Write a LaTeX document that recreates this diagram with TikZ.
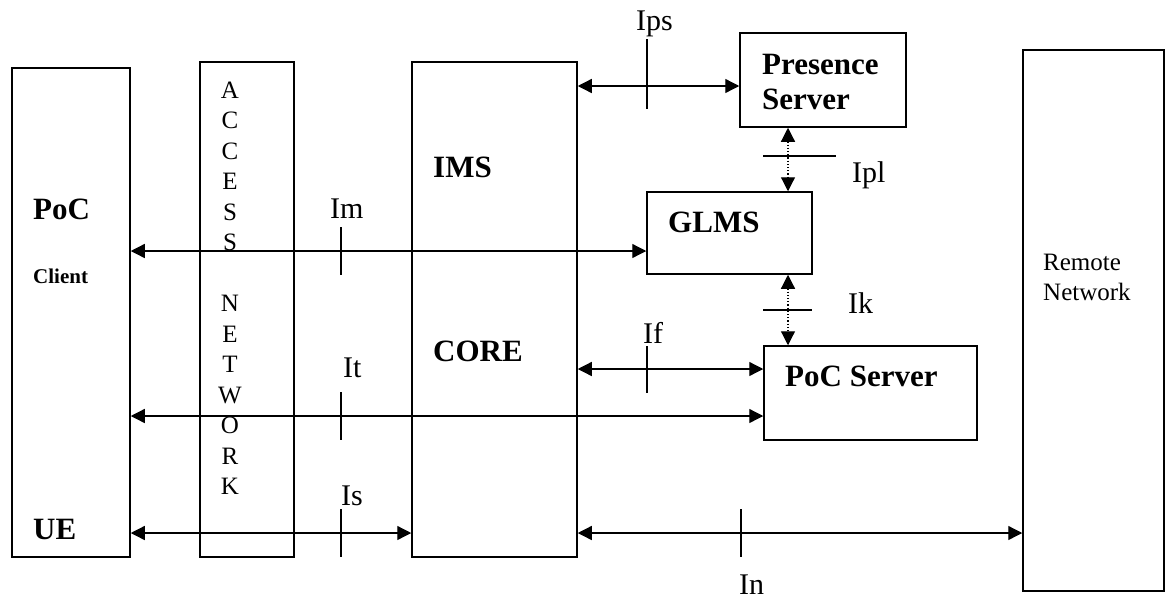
\documentclass[tikz,border=0pt]{standalone}
\usepackage{fontspec}
\setmainfont{Liberation Serif}
\usetikzlibrary{arrows.meta}

\begin{document}
\begin{tikzpicture}[x=1pt,y=-1pt,
    box/.style={draw,line width=1.5pt,inner sep=0pt},
    link/.style={{Triangle[length=14pt,width=14pt]}-{Triangle[length=14pt,width=14pt]},
      line width=1.3pt},
    dotlink/.style={link,line width=1.2pt,dotted},
    tick/.style={line width=1.3pt},
    lbl/.style={inner sep=0pt,anchor=base west,font=\fontsize{30}{34}\selectfont},
    title/.style={inner sep=0pt,anchor=base west,align=left,
      font=\bfseries\fontsize{31}{35}\selectfont},
    letter/.style={inner sep=0pt,anchor=base,font=\fontsize{25}{30}\selectfont}
  ]
    \useasboundingbox (0,0) rectangle (1168,598);

    % boxes
    \node[box,minimum width=118pt,minimum height=489pt] (ue) at (71,312.5) {};
    \node[box,minimum width=94pt,minimum height=495pt] (acc) at (247,309.5) {};
    \node[box,minimum width=165pt,minimum height=495pt] (ims) at (494.5,309.5) {};
    \node[box,minimum width=166pt,minimum height=94pt] (pres) at (823,80) {};
    \node[box,minimum width=165pt,minimum height=82pt] (glms) at (729.5,233) {};
    \node[box,minimum width=213pt,minimum height=94pt] (pocs) at (870.5,393) {};
    \node[box,minimum width=141pt,minimum height=541pt] (remote) at (1093.5,320.5) {};

    % texts in the boxes
    \node[title] (poc) at (33,219) {PoC};
    \node[title,font=\bfseries\fontsize{21}{25}\selectfont] (client) at (33,283) {Client};
    \node[title] (uetext) at (33,539) {UE};
    \node[title] (imstext) at (433,177) {IMS};
    \node[title] (coretext) at (433,361) {CORE};
    \node[title] (glmstext) at (668,232) {GLMS};
    \node[title] (prestext) at (762,109) {Presence\\Server};
    \node[title] (pocstext) at (785,386) {PoC Server};
    \node[lbl,align=left,font=\fontsize{25}{30}\selectfont] (remotetext) at (1043,300)
      {Remote\\Network};
    \foreach \ch/\k in {A/0,C/1,C/2,E/3,S/4,S/5,N/7,E/8,T/9,W/10,O/11,R/12,K/13}
      \node[letter] (acc\k) at (230,98+30.5*\k) {\ch};

    % interfaces
    \coordinate (ipsY) at (0,86);
    \coordinate (imY) at (0,251);
    \coordinate (ifY) at (0,369);
    \coordinate (itY) at (0,416);
    \coordinate (isY) at (0,533);
    \coordinate (plX) at (788,0);

    \draw[link] (ims.east |- ipsY) -- (pres.west |- ipsY);
    \draw[link] (ue.east |- imY) -- (glms.west |- imY);
    \draw[link] (ims.east |- ifY) -- (pocs.west |- ifY);
    \draw[link] (ue.east |- itY) -- (pocs.west |- itY);
    \draw[link] (ue.east |- isY) -- (ims.west |- isY);
    \draw[link] (ims.east |- isY) -- (remote.west |- isY);
    \draw[dotlink] (pres.south -| plX) -- (glms.north -| plX);
    \draw[dotlink] (glms.south -| plX) -- (pocs.north -| plX);

    % ticks
    \draw[tick] (647,39) -- (647,109);
    \draw[tick] (341,227) -- (341,275);
    \draw[tick] (341,392) -- (341,440);
    \draw[tick] (341,509) -- (341,557);
    \draw[tick] (647,346) -- (647,393);
    \draw[tick] (741,509) -- (741,557);
    \draw[tick] (763,156) -- (836,156);
    \draw[tick] (763,310) -- (812,310);

    \node[lbl] (ips) at (636,30) {Ips};
    \node[lbl] (im) at (330,218) {Im};
    \node[lbl] (it) at (343,377) {It};
    \node[lbl] (is) at (341,505) {Is};
    \node[lbl] (if) at (643,343) {If};
    \node[lbl] (in) at (739,594) {In};
    \node[lbl] (ipl) at (852,182) {Ipl};
    \node[lbl] (ik) at (848,313) {Ik};
  \end{tikzpicture}
\end{document}
